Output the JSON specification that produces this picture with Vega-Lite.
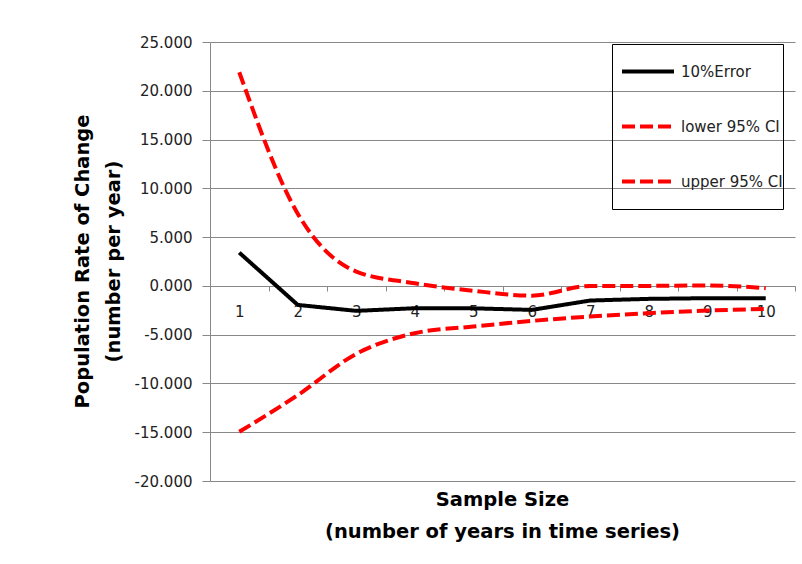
{
  "$schema": "https://vega.github.io/schema/vega-lite/v6.json",
  "autosize": {"type": "none"},
  "width": 585,
  "height": 439,
  "padding": {"left": 210, "top": 42, "right": 7, "bottom": 83},
  "background": "white",
  "config": {
    "view": {"stroke": null},
    "font": "DejaVu Sans",
    "axis": {"labelFont": "DejaVu Sans", "titleFont": "DejaVu Sans"}
  },
  "title": {
    "text": ["Sample Size", "(number of years in time series)"],
    "orient": "bottom",
    "anchor": "middle",
    "frame": "group",
    "font": "DejaVu Sans",
    "fontSize": 19.5,
    "fontWeight": "bold",
    "color": "black",
    "lineHeight": 32,
    "offset": 2
  },
  "data": {
    "values": [
      {"n": 1, "series": "10%Error", "value": 3.41},
      {"n": 2, "series": "10%Error", "value": -1.95},
      {"n": 3, "series": "10%Error", "value": -2.56},
      {"n": 4, "series": "10%Error", "value": -2.29},
      {"n": 5, "series": "10%Error", "value": -2.3},
      {"n": 6, "series": "10%Error", "value": -2.46},
      {"n": 7, "series": "10%Error", "value": -1.5},
      {"n": 8, "series": "10%Error", "value": -1.33},
      {"n": 9, "series": "10%Error", "value": -1.26},
      {"n": 10, "series": "10%Error", "value": -1.26},
      {"n": 1, "series": "lower 95% CI", "value": -14.96},
      {"n": 2, "series": "lower 95% CI", "value": -11.2},
      {"n": 3, "series": "lower 95% CI", "value": -6.97},
      {"n": 4, "series": "lower 95% CI", "value": -4.85},
      {"n": 5, "series": "lower 95% CI", "value": -4.17},
      {"n": 6, "series": "lower 95% CI", "value": -3.59},
      {"n": 7, "series": "lower 95% CI", "value": -3.14},
      {"n": 8, "series": "lower 95% CI", "value": -2.8},
      {"n": 9, "series": "lower 95% CI", "value": -2.53},
      {"n": 10, "series": "lower 95% CI", "value": -2.36},
      {"n": 1, "series": "upper 95% CI", "value": 21.9},
      {"n": 2, "series": "upper 95% CI", "value": 7.4},
      {"n": 3, "series": "upper 95% CI", "value": 1.47},
      {"n": 4, "series": "upper 95% CI", "value": 0.27},
      {"n": 5, "series": "upper 95% CI", "value": -0.5},
      {"n": 6, "series": "upper 95% CI", "value": -1.0},
      {"n": 7, "series": "upper 95% CI", "value": 0.0},
      {"n": 8, "series": "upper 95% CI", "value": 0.0},
      {"n": 9, "series": "upper 95% CI", "value": 0.05},
      {"n": 10, "series": "upper 95% CI", "value": -0.24}
    ]
  },
  "encoding": {
    "x": {
      "field": "n",
      "type": "ordinal",
      "scale": {"type": "band", "paddingInner": 0, "paddingOuter": 0},
      "axis": {
        "orient": "bottom",
        "offset": -195,
        "title": null,
        "labelAngle": 0,
        "tickBand": "extent",
        "tickSize": 5,
        "tickColor": "#888888",
        "domainColor": "#888888",
        "labelPadding": 13,
        "labelFont": "DejaVu Sans",
        "labelFontSize": 15,
        "labelColor": "#222222",
        "grid": false
      }
    },
    "y": {
      "field": "value",
      "type": "quantitative",
      "scale": {"domain": [-20, 25], "nice": false, "zero": false},
      "axis": {
        "values": [-20, -15, -10, -5, 0, 5, 10, 15, 20, 25],
        "labelExpr": "replace(format(datum.value, '.3f'), '\u2212', '-')",
        "labelFont": "DejaVu Sans",
        "labelFontSize": 15,
        "labelColor": "#222222",
        "labelPadding": 10,
        "tickSize": 8,
        "tickColor": "#888888",
        "domainColor": "#888888",
        "grid": true,
        "gridColor": "#888888",
        "gridWidth": 1,
        "title": ["Population Rate of Change", "(number per year)"],
        "titleFont": "DejaVu Sans",
        "titleFontSize": 19.5,
        "titleFontWeight": "bold",
        "titleColor": "black",
        "titleLineHeight": 31,
        "titleAngle": -90,
        "titleAlign": "center",
        "titleBaseline": "middle",
        "titleX": -128,
        "titleY": 219
      }
    },
    "color": {
      "field": "series",
      "type": "nominal",
      "scale": {"domain": ["10%Error", "lower 95% CI", "upper 95% CI"], "range": ["black", "#ff0000", "#ff0000"]},
      "legend": {
        "orient": "none",
        "legendX": 402,
        "legendY": 2,
        "title": null,
        "padding": 0,
        "strokeColor": "black",
        "symbolType": "stroke",
        "symbolSize": 2704,
        "symbolStrokeWidth": 4,
        "symbolOffset": 8,
        "clipHeight": 55,
        "rowPadding": 0,
        "labelFont": "DejaVu Sans",
        "labelFontSize": 15,
        "labelColor": "#222222",
        "labelOffset": 5
      }
    },
    "strokeDash": {
      "field": "series",
      "type": "nominal",
      "scale": {"domain": ["10%Error", "lower 95% CI", "upper 95% CI"], "range": [[1, 0], [13, 5], [13, 5]]},
      "legend": {
        "orient": "none",
        "legendX": 402,
        "legendY": 2,
        "title": null,
        "padding": 0,
        "strokeColor": "black",
        "symbolType": "stroke",
        "symbolSize": 2704,
        "symbolStrokeWidth": 4,
        "symbolOffset": 8,
        "clipHeight": 55,
        "rowPadding": 0,
        "labelFont": "DejaVu Sans",
        "labelFontSize": 15,
        "labelColor": "#222222",
        "labelOffset": 5
      }
    }
  },
  "layer": [
    {
      "transform": [{"filter": "datum.series === '10%Error'"}],
      "mark": {"type": "line", "strokeWidth": 4, "interpolate": "linear"}
    },
    {
      "transform": [{"filter": "datum.series !== '10%Error'"}],
      "mark": {"type": "line", "strokeWidth": 4, "interpolate": "monotone"}
    }
  ]
}
